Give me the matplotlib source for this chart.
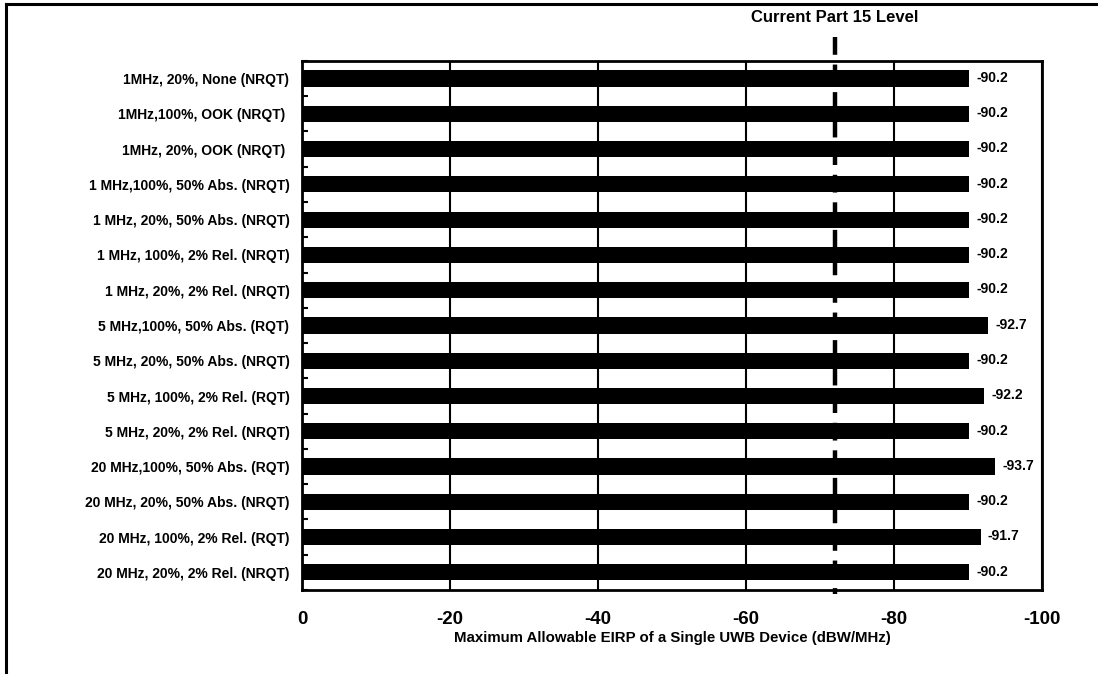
import matplotlib
matplotlib.use("Agg")
from matplotlib import pyplot as plt
from matplotlib.lines import Line2D
from matplotlib.ticker import MultipleLocator
import numpy as np

plt.rcParams['font.family'] = ['Liberation Sans', 'DejaVu Sans']
plt.rcParams['font.weight'] = 'bold'

categories = [
    "1MHz, 20%, None (NRQT)",
    "1MHz,100%, OOK (NRQT) ",
    "1MHz, 20%, OOK (NRQT) ",
    "1 MHz,100%, 50% Abs. (NRQT)",
    "1 MHz, 20%, 50% Abs. (NRQT)",
    "1 MHz, 100%, 2% Rel. (NRQT)",
    "1 MHz, 20%, 2% Rel. (NRQT)",
    "5 MHz,100%, 50% Abs. (RQT)",
    "5 MHz, 20%, 50% Abs. (NRQT)",
    "5 MHz, 100%, 2% Rel. (RQT)",
    "5 MHz, 20%, 2% Rel. (NRQT)",
    "20 MHz,100%, 50% Abs. (RQT)",
    "20 MHz, 20%, 50% Abs. (NRQT)",
    "20 MHz, 100%, 2% Rel. (RQT)",
    "20 MHz, 20%, 2% Rel. (NRQT)",
]
eirp = [-90.2, -90.2, -90.2, -90.2, -90.2, -90.2, -90.2,
        -92.7, -90.2, -92.2, -90.2, -93.7, -90.2, -91.7, -90.2]
part15_level = -72.0
x_ticks = [0, -20, -40, -60, -80, -100]

fig = plt.figure(figsize=(10.98, 6.74), dpi=100)
ax = fig.add_axes([0.275, 0.1246, 0.674, 0.785])

y = np.arange(len(categories))
ax.barh(y, eirp, height=0.46, color='black', zorder=3)
for yi, v in zip(y, eirp):
    ax.text(v - 1.0, yi - 0.02, f"{v:.1f}", va='center', ha='left',
            fontsize=10, fontweight='bold', zorder=4)

ax.set_xlim(0, -100)
ax.set_ylim(len(categories) - 0.5, -0.5)
ax.set_xticks(x_ticks)
ax.set_xticklabels([str(t) for t in x_ticks], fontsize=13.5, fontweight='bold')
ax.tick_params(axis='x', length=0, pad=15)
ax.grid(axis='x', color='black', linewidth=1.5, zorder=1)

ax.set_yticks(y)
ax.set_yticklabels(categories, fontsize=10, fontweight='bold')
ax.tick_params(axis='y', which='major', length=0, pad=9)
ax.yaxis.set_minor_locator(MultipleLocator(1, offset=0.5))
ax.tick_params(axis='y', which='minor', direction='in', length=4, width=1.5)

for s in ax.spines.values():
    s.set_linewidth(2)

ax.set_xlabel("Maximum Allowable EIRP of a Single UWB Device (dBW/MHz)",
              fontsize=10.8, fontweight='bold', labelpad=2)

# part 15 reference line, runs a little past the axes
ax.plot([part15_level, part15_level], [-1.18, 14.6], color='black',
        linewidth=3.2, linestyle=(0, (4, 2.2)), clip_on=False, zorder=5)
ax.text(part15_level, -1.52, "Current Part 15 Level", ha='center', va='bottom',
        fontsize=12, fontweight='bold')

# frame lines of the original page crop
fig.add_artist(Line2D([6 / 1098, 6 / 1098], [0, 1 - 4 / 674], color='black',
                      linewidth=2.2, transform=fig.transFigure))
fig.add_artist(Line2D([6 / 1098, 1], [1 - 4 / 674, 1 - 4 / 674], color='black',
                      linewidth=2.2, transform=fig.transFigure))

fig.savefig("out.png", dpi=100)
